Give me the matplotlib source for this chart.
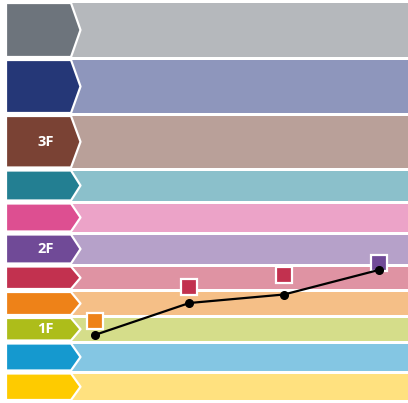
import matplotlib
matplotlib.use('Agg')
import matplotlib.pyplot as plt
from matplotlib.patches import Rectangle, Polygon

# ── Data ──────────────────────────────────────────────────────────────────────
# bands listed bottom to top
band_edges  = [0, 29.5, 59.5, 85, 111, 136.5, 168.5, 199.5, 232.5, 287, 343, 400]
band_labels = ['', '', '1F', '', '', '2F', '', '', '3F', '', '']
band_dark   = ['#fecb00', '#1599cf', '#adbd1a', '#ee8218', '#c2314f', '#704a97',
               '#dd4f91', '#237f92', '#7a4234', '#253777', '#6d747c']
band_light  = ['#ffe17f', '#84c6e3', '#d5dd8a', '#f5bf87', '#df93a3', '#b6a1c9',
               '#eca3c8', '#8bc0cb', '#b9a099', '#8e96bc', '#b5b8bc']

steps        = [1, 2, 3, 4]
line_values  = [66.5, 98.5, 107, 131.5]
square_values = [80.5, 114.5, 126.5, 138.5]
square_colors = ['#ee8218', '#c2314f', '#c2314f', '#704a97']

# ── Layout ────────────────────────────────────────────────────────────────────
W, H = 408, 403
XMAX = 4.31
def px(v):
    return v * XMAX / W

BOX_L, BOX_R, BOX_TIP = px(6), px(71), px(80.5)
GAP = 1.5

fig = plt.figure(figsize=(W / 100, H / 100), dpi=100)
ax = fig.add_axes([0, 0, 1, 1])
ax.set_xlim(0, XMAX)
ax.set_ylim(-1.5, 401.5)
ax.axis('off')

for i, lab in enumerate(band_labels):
    lo, hi = band_edges[i] + GAP, band_edges[i + 1] - GAP
    mid = (lo + hi) / 2
    ax.add_patch(Rectangle((BOX_L, lo), XMAX - BOX_L, hi - lo,
                           facecolor=band_light[i], edgecolor='none', zorder=1))
    ax.add_patch(Polygon([(BOX_L, lo), (BOX_R, lo), (BOX_TIP, mid), (BOX_R, hi), (BOX_L, hi)],
                         closed=True, facecolor=band_dark[i], edgecolor='white',
                         linewidth=1.6, joinstyle='round', zorder=2))
    if lab:
        ax.text(px(45.5), mid, lab, ha='center', va='center', color='white',
                fontsize=10.5, fontweight='bold', family='Open Sans', zorder=3)

for xs, ys, c in zip(steps, square_values, square_colors):
    ax.plot(xs, ys, marker='s', markersize=11, markerfacecolor=c,
            markeredgecolor='white', markeredgewidth=1.6, zorder=4)

ax.plot(steps, line_values, color='black', linewidth=1.6, marker='o',
        markersize=5.5, zorder=5)

fig.savefig('out.png', dpi=100)
